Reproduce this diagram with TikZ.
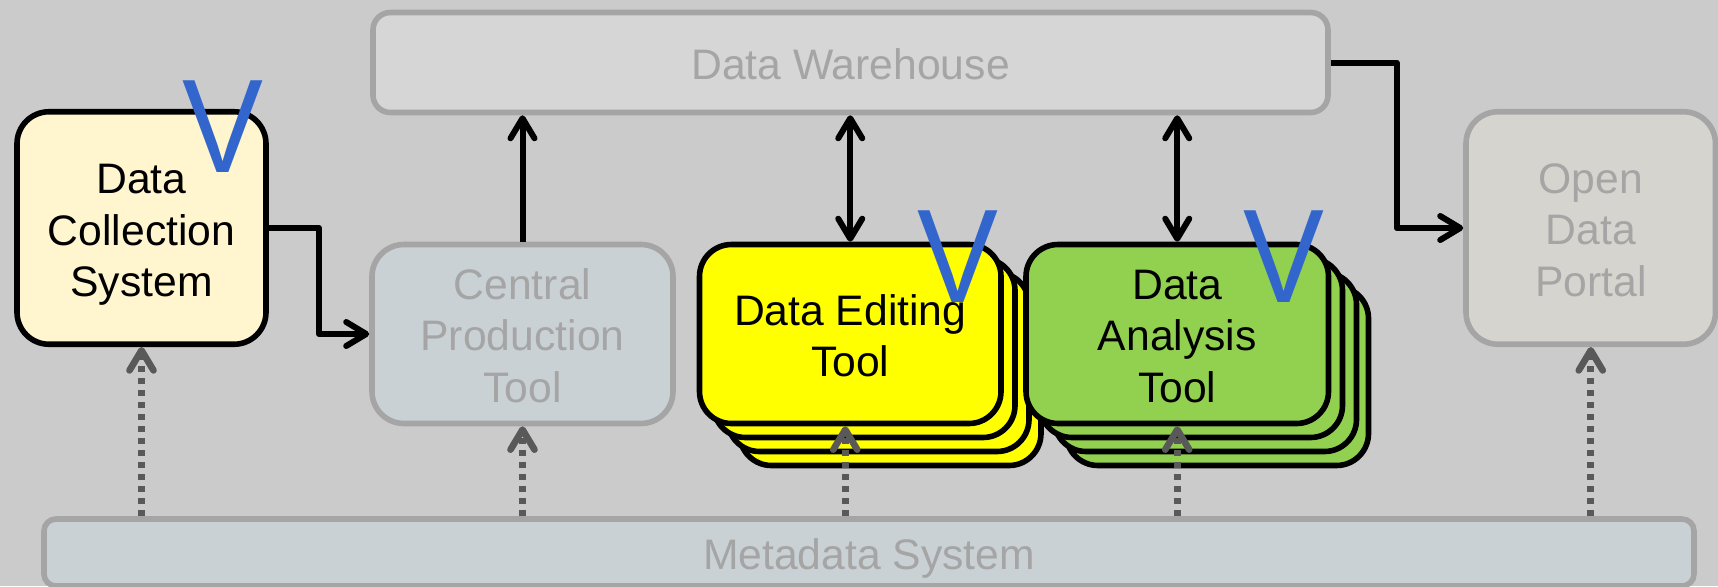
\documentclass[tikz,border=0pt]{standalone}
\usepackage{fontspec}
\setmainfont{Liberation Sans}
\usetikzlibrary{arrows.meta,calc}
\definecolor{bgc}{HTML}{CBCBCB}
\definecolor{mute}{HTML}{A5A5A5}
\definecolor{dwc}{HTML}{D6D6D6}
\definecolor{slate}{HTML}{C9D1D5}
\definecolor{cream}{HTML}{FFF5CE}
\definecolor{portal}{HTML}{D6D4CE}
\definecolor{yel}{HTML}{FFFF00}
\definecolor{grn}{HTML}{92D14F}
\definecolor{vblue}{HTML}{3366CC}
\definecolor{dotc}{HTML}{595959}
\newcommand{\nodp}[1]{\raisebox{0pt}[\height][0pt]{#1}}
\newcommand{\topfix}{\rule{0pt}{25.5pt}}
\tikzset{
  x=0.75pt,y=-0.75pt,
  sz/.style 2 args={minimum width=#1*0.75pt,minimum height=#2*0.75pt},
  boxbase/.style={rectangle,inner sep=0pt,align=center,line width=4.2pt,
    font=\fontsize{32}{38.6}\selectfont},
  active/.style={boxbase,draw=black,text=black,rounded corners=24pt},
  faded/.style={boxbase,draw=mute,text=mute,rounded corners=24pt},
  flow/.style={line width=4.5pt,line join=round,
    -{Straight Barb[length=15pt,width=18pt,round]}},
  flowboth/.style={line width=4.5pt,
    {Straight Barb[length=15pt,width=18pt,round]}-{Straight Barb[length=15pt,width=18pt,round]}},
  metaflow/.style={line width=5pt,draw=dotc,dash pattern=on 4.5pt off 4.5pt,
    -{Straight Barb[length=15pt,width=18pt,round]}},
  tick/.style={text=vblue,inner sep=0pt,anchor=base,
    font=\fontsize{100}{100}\selectfont},
}
\begin{document}
\begin{tikzpicture}
\fill[bgc] (0,0) rectangle (1718,586);
\useasboundingbox (0,0) rectangle (1718,586);
% stacks
\node[active,fill=yel,sz={301.5}{179}] (de3) at (890.25,376) {};
\node[active,fill=yel,sz={301.5}{179}] (de2) at (878.25,362) {};
\node[active,fill=yel,sz={301.5}{179}] (de1) at (864.25,348) {};
\node[active,fill=yel,sz={301.5}{179}] (de) at (850.25,334) {\topfix Data Editing\\Tool};
\node[active,fill=grn,sz={302.5}{179}] (da3) at (1217.25,376) {};
\node[active,fill=grn,sz={302.5}{179}] (da2) at (1205.25,362) {};
\node[active,fill=grn,sz={302.5}{179}] (da1) at (1191.25,348) {};
\node[active,fill=grn,sz={302.5}{179}] (da) at (1177.25,334) {\topfix Data\\Analysis\\Tool};
% other boxes
\node[active,fill=cream,sz={249}{232.5}] (dcs) at (141.5,228) {\topfix Data\\Collection\\\nodp{System}};
\node[faded,fill=slate,sz={301}{179}] (cp) at (522.5,334) {\topfix Central\\Production\\Tool};
\node[faded,fill=dwc,sz={955}{100},rounded corners=13pt] (dw) at (850.5,62.5) {\topfix Data Warehouse};
\node[faded,fill=portal,sz={249.5}{232.5}] (odp) at (1590.75,228) {\topfix Open\\Data\\Portal};
\node[faded,fill=slate,sz={1650}{67},rounded corners=9pt] (meta) at (869,552.5) {\topfix\nodp{Metadata System}};
% connectors
\coordinate (m1) at (319,228);
\coordinate (m2) at (1396.7,62.5);
\draw[flow] (dcs.east) -- (m1) |- (cp.west);
\draw[flow] (cp.north) -- (cp.north |- dw.south);
\draw[flowboth] (de.north) -- (de.north |- dw.south);
\draw[flowboth] (da.north) -- (da.north |- dw.south);
\draw[flow] (dw.east) -- (m2) |- (odp.west);
\draw[metaflow] (dcs.south |- meta.north) -- (dcs.south);
\draw[metaflow] (cp.south |- meta.north) -- (cp.south);
\draw[metaflow] ([xshift=-3.75pt]de.south |- meta.north) -- ([xshift=-3.75pt]de.south);
\draw[metaflow] (da.south |- meta.north) -- (da.south);
\draw[metaflow] (odp.south |- meta.north) -- (odp.south);
% ticks
\node[tick] (v1) at (222.8,172.6) {\scalebox{0.91}[1]{V}};
\node[tick] (v2) at (957.5,302.7) {\scalebox{0.91}[1]{V}};
\node[tick] (v3) at (1284.3,302.7) {\scalebox{0.91}[1]{V}};
\end{tikzpicture}
\end{document}
